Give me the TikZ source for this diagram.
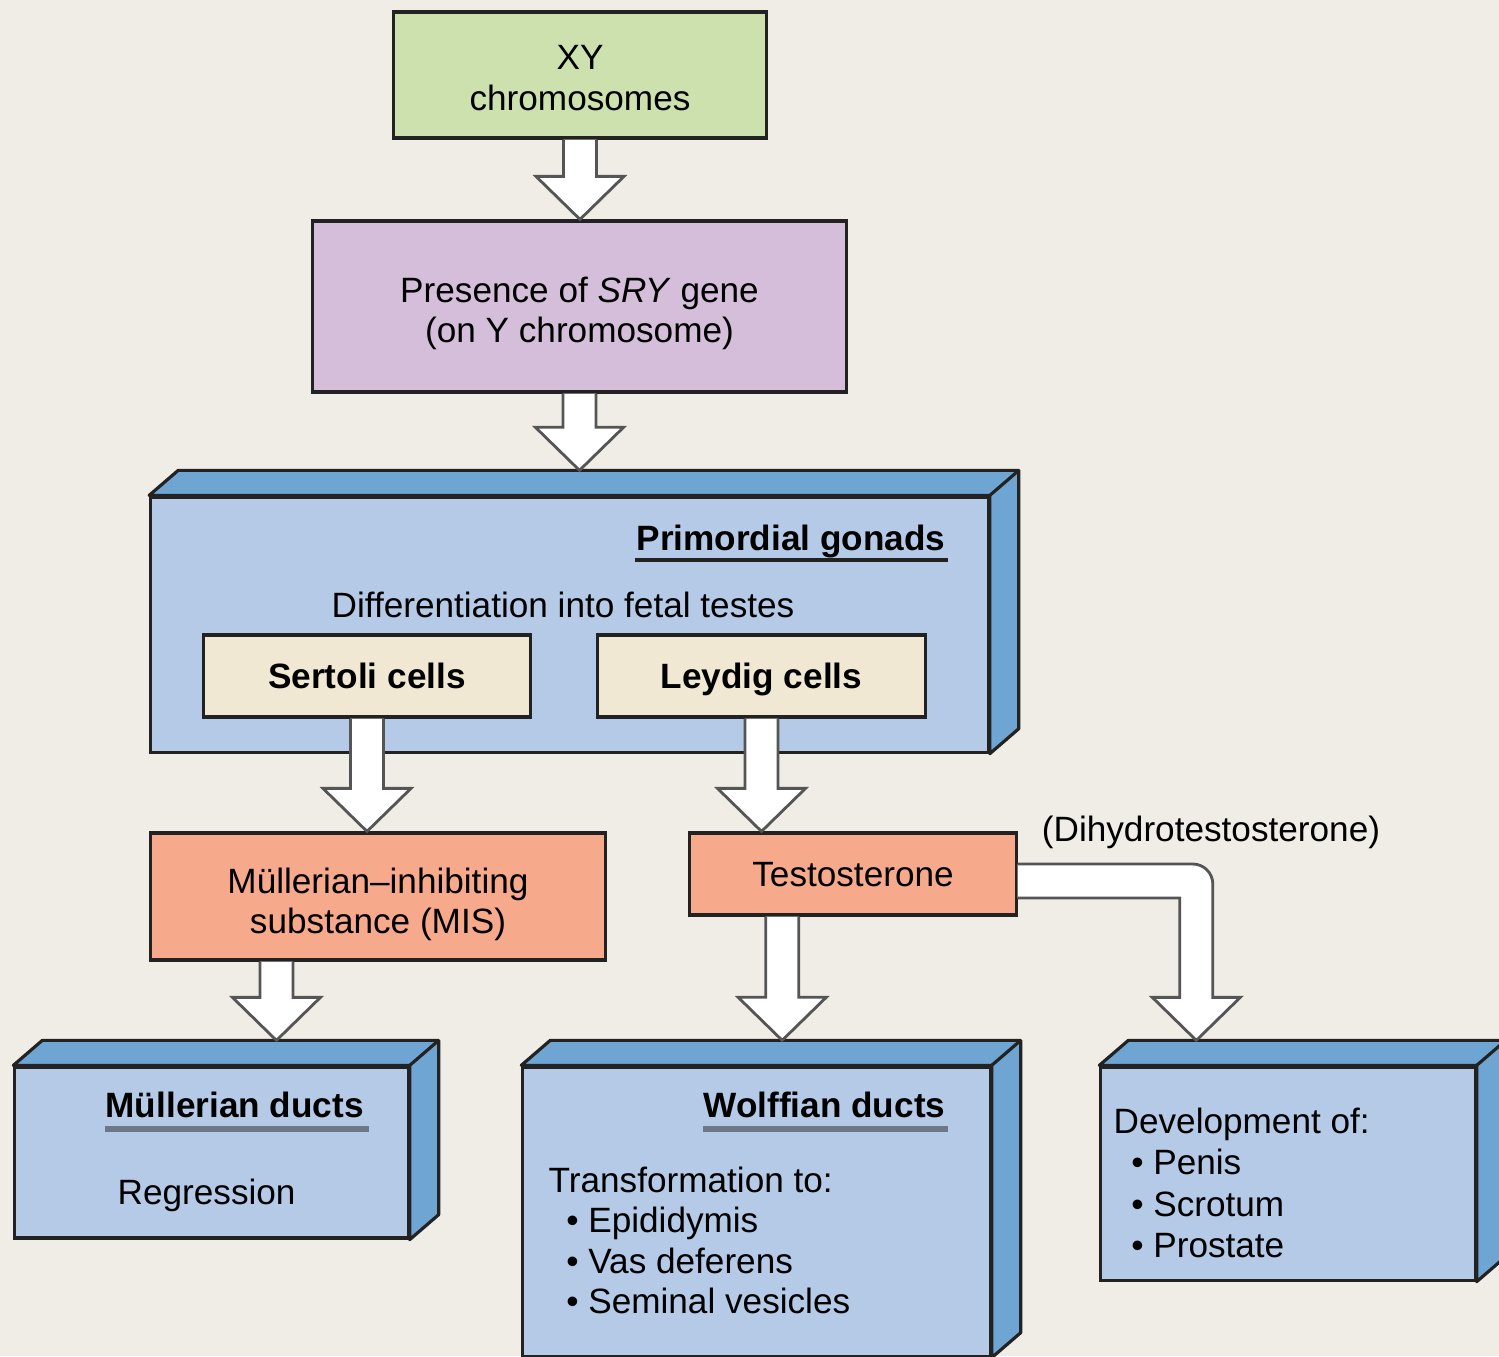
\documentclass[tikz,border=0pt]{standalone}
\usepackage{fontspec}
\setmainfont{Liberation Sans}
\usetikzlibrary{calc}

\definecolor{paper}{HTML}{F0EDE6}
\definecolor{leafgreen}{HTML}{CDE1AF}
\definecolor{lilac}{HTML}{D4BED9}
\definecolor{frontblue}{HTML}{B4CAE6}
\definecolor{sideblue}{HTML}{6FA5D3}
\definecolor{cream}{HTML}{F0E8D2}
\definecolor{salmon}{HTML}{F7A98C}
\definecolor{boxline}{HTML}{222222}
\definecolor{arrowline}{HTML}{555555}
\definecolor{rulegray}{HTML}{6E7787}

% block arrow pointing down, from #1 to the height of #2
\newcommand{\blockdown}[2]{%
  \draw[blockarrow] let \p1 = (#1), \p2 = (#2) in
    (\x1-0.165cm,\y1) -- (\x1-0.165cm,\y2+0.43cm) -- (\x1-0.44cm,\y2+0.43cm) --
    (\x1,\y2) --
    (\x1+0.44cm,\y2+0.43cm) -- (\x1+0.165cm,\y2+0.43cm) -- (\x1+0.165cm,\y1);
}
% top and side face of a front box
\newcommand{\depthfaces}[1]{%
  \draw[faces] (#1.north west) -- ++(29,-25) -- ($(#1.north east)+(29,-25)$) --
    ($(#1.south east)+(29,-25)$) -- (#1.south east) -- (#1.north east) -- cycle;
  \draw[faces] (#1.north east) -- ++(29,-25);
}

\begin{document}
\begin{tikzpicture}[
    x = 0.01cm, y = -0.01cm,
    every node/.style = {font = \fontsize{10}{11.5}\selectfont, inner sep = 0pt},
    box/.style = {draw = boxline, line width = 0.9pt, align = center},
    onebox/.style = {box, minimum height = 0.82cm, text height = 7.3pt, text depth = 0pt},
    front/.style = {box, fill = frontblue},
    faces/.style = {draw = boxline, line width = 0.9pt, fill = sideblue, line join = round},
    head/.style = {font = \fontsize{10}{11.5}\selectfont\bfseries},
    blockarrow/.style = {draw = arrowline, line width = 0.8pt, fill = white, line join = miter},
    underrule/.style = {line width = 1.6pt, rulegray}]

\useasboundingbox (0,0) rectangle (1499,1356);
\clip (0,0) rectangle (1499,1356);
\fill[paper] (0,0) rectangle (1499,1356);

% top of the chain
\node[box, fill = leafgreen, minimum width = 3.72cm, minimum height = 1.26cm] (xy) at (580,75) {};
\node[align = center] (xytext) at ($(xy.center)+(0,3)$) {XY\\chromosomes};
\node[box, fill = lilac, minimum width = 5.33cm, minimum height = 1.71cm] (sry) at (579.5,306.5) {};
\node[align = center] (srytext) at ($(sry.center)+(0,7)$)
    {Presence of \textit{SRY} gene\\(on Y chromosome)};

% gonads
\node[front, minimum width = 8.37cm, minimum height = 2.55cm] (gonads) at (569.5,624.5) {};
\depthfaces{gonads}
\node[head, anchor = base east] (pgtitle) at (946,550) {Primordial gonads};
\draw[line width = 1pt, boxline] ($(pgtitle.base west)+(-1,10)$) -- ($(pgtitle.base east)+(2,10)$);
\node[anchor = base] (diff) at (563,617) {Differentiation into fetal testes};
\node[onebox, fill = cream, minimum width = 3.26cm, head] (sertoli) at (367,676) {Sertoli cells};
\node[onebox, fill = cream, minimum width = 3.27cm, head] (leydig) at (761.5,676) {Leydig cells};

% hormones
\node[box, fill = salmon, minimum width = 4.54cm, minimum height = 1.27cm] (mis) at (378,896.5) {};
\node[align = center] (mistext) at ($(mis.center)+(0,8)$) {Müllerian–inhibiting\\substance (MIS)};
\node[onebox, fill = salmon, minimum width = 3.26cm] (testo) at (853,874) {Testosterone};
\node (dht) at (1211,832) {(Dihydrotestosterone)};

% ducts
\node[front, minimum width = 3.93cm, minimum height = 1.71cm] (mull) at (211.5,1152.5) {};
\depthfaces{mull}
\node[head, anchor = base west] (mulltitle) at (105,1117) {Müllerian ducts};
\draw[underrule] ($(mulltitle.base west)+(0,12)$) -- ($(mulltitle.base east)+(5,12)$);
\node[anchor = base west] (regress) at (117,1204) {Regression};

\node[front, minimum width = 4.67cm, minimum height = 2.89cm] (wolff) at (756.5,1211.5) {};
\depthfaces{wolff}
\node[head, anchor = base east] (wolfftitle) at (946,1117) {Wolffian ducts};
\draw[underrule] ($(wolfftitle.base west)+(0,12)$) -- ($(wolfftitle.base east)+(2,12)$);
\node[anchor = north west, align = left] (transform) at (548,1166)
    {Transformation to:\\
     \hspace*{5pt}\textbullet\ Epididymis\\
     \hspace*{5pt}\textbullet\ Vas deferens\\
     \hspace*{5pt}\textbullet\ Seminal vesicles};

\node[front, minimum width = 3.74cm, minimum height = 2.13cm] (dev) at (1288,1173.5) {};
\depthfaces{dev}
\node[anchor = north west, align = left, font = \fontsize{10}{11.8}\selectfont]
    (develop) at (1113,1107)
    {Development of:\\
     \hspace*{5pt}\textbullet\ Penis\\
     \hspace*{5pt}\textbullet\ Scrotum\\
     \hspace*{5pt}\textbullet\ Prostate};

% arrows
\coordinate (gonadstop) at ($(gonads.north)+(0,-25)$);
\coordinate (mulltop) at ($(mull.north)+(0,-25)$);
\coordinate (wolfftop) at ($(wolff.north)+(0,-25)$);
\coordinate (devtop) at ($(dev.north west)+(97,-25)$);
\coordinate (misfoot) at ($(mis.south west)!0.278!(mis.south east)$);
\coordinate (testofoot) at ($(testo.south west)!0.285!(testo.south east)$);

\blockdown{xy.south}{sry.north}
\blockdown{sry.south}{gonadstop}
\blockdown{sertoli.south}{mis.north}
\blockdown{leydig.south}{testo.north}
\blockdown{misfoot}{mulltop}
\blockdown{testofoot}{wolfftop}

\draw[blockarrow] let \p1 = (testo.east), \p2 = (devtop) in
    (\x1,\y1+0.10cm) -- (\x2-0.035cm,\y1+0.10cm)
    .. controls (\x2+0.075cm,\y1+0.10cm) and (\x2+0.165cm,\y1+0.01cm) ..
    (\x2+0.165cm,\y1-0.10cm) --
    (\x2+0.165cm,\y2+0.43cm) -- (\x2+0.44cm,\y2+0.43cm) --
    (\x2,\y2) --
    (\x2-0.44cm,\y2+0.43cm) -- (\x2-0.165cm,\y2+0.43cm) --
    (\x2-0.165cm,\y1-0.24cm) -- (\x1,\y1-0.24cm);
\end{tikzpicture}
\end{document}
